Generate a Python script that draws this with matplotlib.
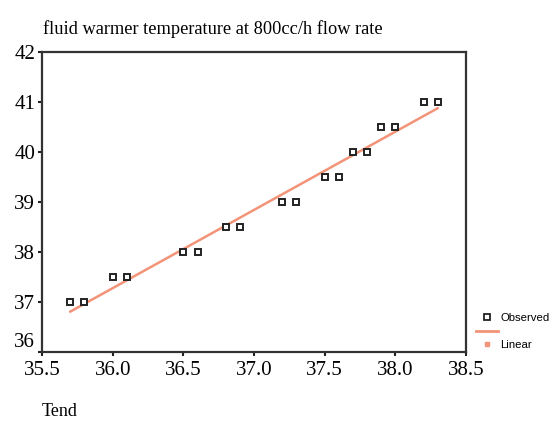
import numpy as np
import matplotlib
matplotlib.use('Agg')
import matplotlib.pyplot as plt
from matplotlib.lines import Line2D
from matplotlib.transforms import ScaledTranslation

# Tend vs fluid warmer temperature
tend = [35.7, 35.8, 36.0, 36.1, 36.5, 36.6, 36.8, 36.9, 37.2, 37.3,
        37.5, 37.6, 37.7, 37.8, 37.9, 38.0, 38.2, 38.3]
temp = [37.0, 37.0, 37.5, 37.5, 38.0, 38.0, 38.5, 38.5, 39.0, 39.0,
        39.5, 39.5, 40.0, 40.0, 40.5, 40.5, 41.0, 41.0]
x_ticks = [35.5, 36.0, 36.5, 37.0, 37.5, 38.0, 38.5]
y_ticks = [36, 37, 38, 39, 40, 41, 42]

line_color = '#f39377'

fig = plt.figure(figsize=(5.54, 4.21), dpi=100)
ax = fig.add_axes([0.076, 0.165, 0.765, 0.712])

# linear fit
slope, intercept = np.polyfit(tend, temp, 1)
x_fit = np.array([min(tend), max(tend)])
ax.plot(x_fit, slope * x_fit + intercept, color=line_color, lw=1.8, zorder=1)

ax.plot(tend, temp, linestyle='none', marker='s', markersize=5,
        markerfacecolor='white', markeredgecolor='#222222', markeredgewidth=1.4, zorder=2)

ax.set_xlim(35.5, 38.5)
ax.set_ylim(36, 42)
ax.set_xticks(x_ticks)
ax.set_xticklabels(['%.1f' % v for v in x_ticks])
ax.set_yticks(y_ticks)

serif = 'Liberation Serif'
for lab in ax.get_xticklabels() + ax.get_yticklabels():
    lab.set_fontfamily(serif)
    lab.set_fontsize(15)
ax.tick_params(direction='out', length=3, width=1.5, color='#222222')
ax.tick_params(axis='x', pad=4)
ax.tick_params(axis='y', pad=2)

# lowest y label sits a little above its tick
lab36 = ax.get_yticklabels()[0]
lab36.set_transform(lab36.get_transform() + ScaledTranslation(0, 8 / 72, fig.dpi_scale_trans))

for s in ax.spines.values():
    s.set_linewidth(1.6)
    s.set_color('#333333')

fig.text(0.078, 0.919, 'fluid warmer temperature at 800cc/h flow rate',
         family=serif, fontsize=13.2, ha='left', va='baseline')
fig.text(0.076, 0.022, 'Tend', family=serif, fontsize=13, ha='left', va='center')

handles = [Line2D([], [], linestyle='none', marker='s', markersize=4.5,
                  markerfacecolor='white', markeredgecolor='#222222', markeredgewidth=1.3),
           Line2D([], [], color=line_color, lw=2),
           Line2D([], [], linestyle='none', marker='s', markersize=3.5,
                  markerfacecolor=line_color, markeredgecolor=line_color)]
ax.legend(handles, ['Observed', '', 'Linear'], loc='lower left', bbox_to_anchor=(1.0, -0.03),
          frameon=False, prop={'family': 'Liberation Sans', 'size': 8.2},
          handlelength=1.9, handletextpad=0.2, borderaxespad=0.7,
          borderpad=0.2, labelspacing=0.3)

fig.savefig('out.png', dpi=100)
